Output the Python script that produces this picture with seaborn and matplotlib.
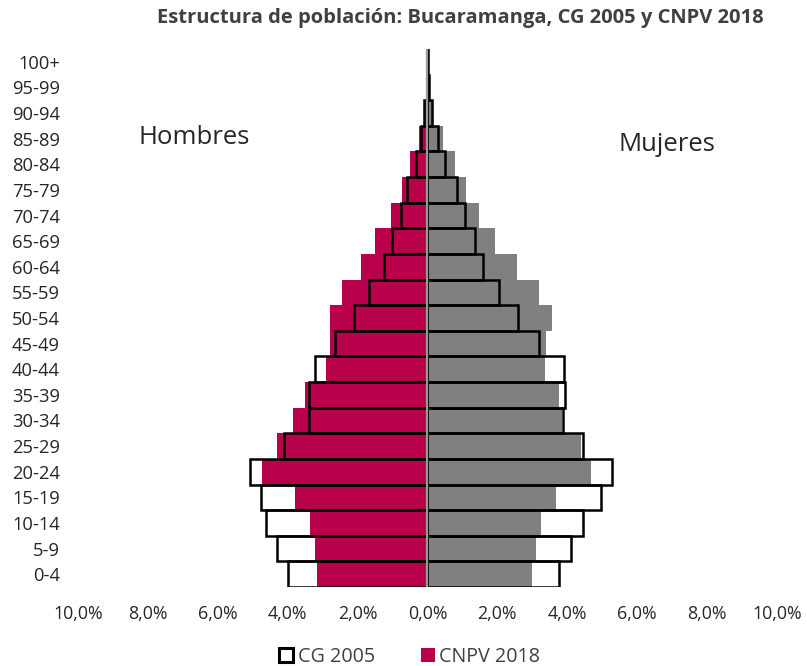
import matplotlib
matplotlib.use("Agg")
import matplotlib.pyplot as plt
from matplotlib.patches import Patch
import seaborn as sns
import pandas as pd

# Age groups, youngest first
age_groups = ["0-4", "5-9", "10-14", "15-19", "20-24", "25-29", "30-34", "35-39",
              "40-44", "45-49", "50-54", "55-59", "60-64", "65-69", "70-74", "75-79",
              "80-84", "85-89", "90-94", "95-99", "100+"]

# Share of total population (%), CNPV 2018
men_2018 = [3.16, 3.22, 3.36, 3.79, 4.73, 4.30, 3.85, 3.51, 2.91, 2.78, 2.79,
            2.44, 1.91, 1.49, 1.04, 0.72, 0.49, 0.25, 0.08, 0.02, 0.01]
women_2018 = [2.99, 3.11, 3.25, 3.67, 4.68, 4.40, 3.85, 3.76, 3.36, 3.38, 3.57,
              3.19, 2.55, 1.93, 1.47, 1.09, 0.79, 0.44, 0.12, 0.04, 0.01]

# Share of total population (%), CG 2005
men_2005 = [4.00, 4.30, 4.61, 4.76, 5.08, 4.12, 3.39, 3.38, 3.23, 2.65, 2.10,
            1.68, 1.25, 1.01, 0.77, 0.58, 0.33, 0.18, 0.09, 0.02, 0.01]
women_2005 = [3.76, 4.11, 4.46, 4.97, 5.28, 4.44, 3.88, 3.95, 3.91, 3.19, 2.58,
              2.04, 1.59, 1.36, 1.07, 0.85, 0.50, 0.31, 0.14, 0.04, 0.01]

x_ticks = [-10, -8, -6, -4, -2, 0, 2, 4, 6, 8, 10]

CRIMSON = "#B8004B"
GRAY = "#808080"

df_men_2018 = pd.DataFrame({"grupo": age_groups, "valor": [-v for v in men_2018]})
df_women_2018 = pd.DataFrame({"grupo": age_groups, "valor": women_2018})
df_men_2005 = pd.DataFrame({"grupo": age_groups, "valor": [-v for v in men_2005]})
df_women_2005 = pd.DataFrame({"grupo": age_groups, "valor": women_2005})

order = age_groups[::-1]  # oldest at the top

sns.set_theme(style="white")
plt.rcParams["font.family"] = ["Open Sans", "DejaVu Sans"]

fig = plt.figure(figsize=(8.07, 6.66), dpi=100)
ax = fig.add_axes([0.0967, 0.1186, 0.866, 0.8078])

# 2018 filled bars
sns.barplot(data=df_men_2018, y="grupo", x="valor", order=order, orient="h",
            color=CRIMSON, saturation=1, width=1.0, errorbar=None, ax=ax,
            linewidth=0)
sns.barplot(data=df_women_2018, y="grupo", x="valor", order=order, orient="h",
            color=GRAY, saturation=1, width=1.0, errorbar=None, ax=ax,
            linewidth=0)

# 2005 outlined bars on top
sns.barplot(data=df_men_2005, y="grupo", x="valor", order=order, orient="h",
            color="black", fill=False, saturation=1, width=1.0, errorbar=None,
            ax=ax, linewidth=1.8)
sns.barplot(data=df_women_2005, y="grupo", x="valor", order=order, orient="h",
            color="black", fill=False, saturation=1, width=1.0, errorbar=None,
            ax=ax, linewidth=1.8)

ax.axvline(0, color="#9a9a9a", lw=1.6, zorder=5)

ax.set_xlim(-10, 10)
ax.set_xticks(x_ticks)
ax.set_xticklabels([f"{abs(t):.1f}%".replace(".", ",") for t in x_ticks],
                   fontsize=12.8, color="#262626")
ax.tick_params(axis="x", length=0, pad=13)
ax.tick_params(axis="y", length=0, pad=13)
for lbl in ax.get_yticklabels():
    lbl.set_fontsize(13.2)
    lbl.set_color("#262626")
ax.set_xlabel("")
ax.set_ylabel("")
for s in ax.spines.values():
    s.set_visible(False)

ax.text(0.166, 0.835, "Hombres", transform=ax.transAxes, ha="center",
        va="center", fontsize=18.5, color="#262626")
ax.text(0.843, 0.822, "Mujeres", transform=ax.transAxes, ha="center",
        va="center", fontsize=18.5, color="#262626")

fig.text(0.571, 0.973, "Estructura de población: Bucaramanga, CG 2005 y CNPV 2018",
         ha="center", va="center", fontsize=14.5, fontweight="bold",
         color="#404040")

handles = [Patch(facecolor="white", edgecolor="black", linewidth=2.2, label="CG 2005"),
           Patch(facecolor=CRIMSON, edgecolor="none", label="CNPV 2018")]
fig.legend(handles=handles, loc="center", bbox_to_anchor=(0.508, 0.014),
           ncol=2, frameon=False, fontsize=14.2, handlelength=0.7,
           handleheight=0.7, handletextpad=0.25, columnspacing=2.3,
           labelcolor="#404040", borderpad=0)

fig.savefig("out.png", dpi=100)
